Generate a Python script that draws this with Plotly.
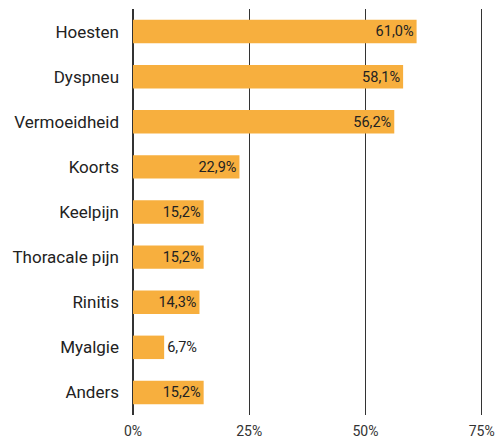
import plotly.graph_objects as go

categories = ["Hoesten", "Dyspneu", "Vermoeidheid", "Koorts", "Keelpijn",
              "Thoracale pijn", "Rinitis", "Myalgie", "Anders"]
values = [61.0, 58.1, 56.2, 22.9, 15.2, 15.2, 14.3, 6.7, 15.2]
label_pos = ["inside", "inside", "inside", "inside", "inside",
             "inside", "inside", "outside", "inside"]
x_ticks = [0, 25, 50, 75]
x_tick_labels = ["0%", "25%", "50%", "75%"]

font_family = "Roboto, 'Noto Sans', sans-serif"

fig = go.Figure(go.Bar(
    x=values, y=categories, orientation="h",
    marker=dict(color="#F7AF3E", line=dict(width=0)),
    texttemplate="%{x:.1f}%", textposition=label_pos,
    insidetextanchor="end",
    textfont=dict(family=font_family, size=15, color="#222222"),
    insidetextfont=dict(family=font_family, size=15, color="#222222"),
    outsidetextfont=dict(family=font_family, size=15, color="#222222"),
    cliponaxis=False,
))

fig.update_layout(
    width=495, height=440,
    margin=dict(l=133, r=11, t=9, b=25, autoexpand=False),
    paper_bgcolor="white", plot_bgcolor="white",
    separators=",.",
    bargap=0.48,
    showlegend=False,
    font=dict(family=font_family, size=15, color="#222222"),
    uniformtext=dict(minsize=12, mode="show"),
)
fig.update_xaxes(
    range=[0, 75.5], tickvals=x_ticks, ticktext=x_tick_labels,
    showgrid=True, gridcolor="#333333", gridwidth=1,
    zeroline=True, zerolinecolor="#333333", zerolinewidth=1.5,
    showline=False, ticks="", ticklabelstandoff=6,
    tickfont=dict(size=14, color="#333333"),
    automargin=False, fixedrange=True,
)
fig.update_yaxes(
    autorange="reversed", showgrid=False, zeroline=False, showline=False,
    ticks="", ticklabelstandoff=13,
    tickfont=dict(size=17, color="#222222"),
    automargin=False, fixedrange=True,
)

fig.write_html(
    "out.html",
    config={"displayModeBar": False},
    post_script="document.body.style.margin='0';"
                "document.body.style.overflow='hidden';",
)
